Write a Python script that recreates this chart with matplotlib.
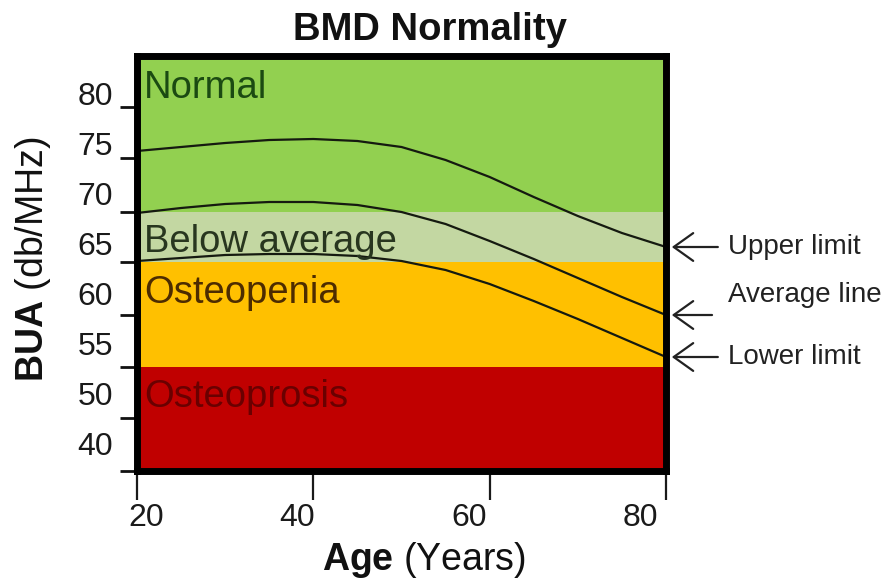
import matplotlib
matplotlib.use("Agg")
import matplotlib.pyplot as plt
import matplotlib.transforms as mtransforms

plt.rcParams['font.family'] = ['Liberation Sans', 'DejaVu Sans']
plt.rcParams['mathtext.fontset'] = 'custom'
plt.rcParams['mathtext.rm'] = 'Liberation Sans'
plt.rcParams['mathtext.bf'] = 'Liberation Sans:bold'

# curves (age in years, BUA)
ages = [20, 25, 30, 35, 40, 45, 50, 55, 60, 65, 70, 75, 80]
upper = [74.2, 74.6, 75.0, 75.3, 75.4, 75.2, 74.6, 73.3, 71.6, 69.6, 67.7, 66.0, 64.6]
average = [68.0, 68.5, 68.9, 69.1, 69.1, 68.8, 68.1, 66.9, 65.2, 63.4, 61.5, 59.6, 57.8]
lower = [63.2, 63.5, 63.8, 63.9, 63.9, 63.7, 63.2, 62.3, 60.9, 59.2, 57.4, 55.5, 53.6]
limit_names = ["Upper limit", "Average line", "Lower limit"]

# zones
zone_names = ["Normal", "Below average", "Osteopenia", "Osteoprosis"]
zone_low = [68.1, 63.1, 52.6, 42.2]
zone_high = [83.7, 68.1, 63.1, 52.6]
zone_colors = ["#92d050", "#c3d7a2", "#ffc000", "#c00000"]
zone_text_colors = ["#1b4a12", "#28361f", "#4d2c00", "#6a0000"]
zone_label_y = [79.5, 64.1, 59.0, 48.6]

# axis ticks
y_tick_pos = [80, 75, 70, 65, 60, 55, 50, 45]
y_tick_text = ["80", "75", "70", "65", "60", "55", "50", "40"]
y_tick_marks = [78.6, 73.5, 68.1, 63.1, 57.8, 52.6, 47.5, 42.2]
x_ticks = [20, 40, 60, 80]
x_label_shift_px = [9, -16, -21, -26]

fig = plt.figure(figsize=(8.86, 5.87), dpi=100)
ax = fig.add_axes([0.1546, 0.1976, 0.5971, 0.707])

for lo, hi, c in zip(zone_low, zone_high, zone_colors):
    ax.axhspan(lo, hi, color=c, lw=0, zorder=0)

for name, ty, tc in zip(zone_names, zone_label_y, zone_text_colors):
    ax.text(20.8, ty, name, color=tc, fontsize=27.5, ha='left', va='baseline', zorder=3)

for series in (upper, average, lower):
    ax.plot(ages, series, color='#151a10', lw=1.6, zorder=2)

ax.set_xlim(20, 80)
ax.set_ylim(42.2, 83.7)

for s in ax.spines.values():
    s.set_linewidth(5)
    s.set_color('black')
    s.set_capstyle('projecting')
    s.set_zorder(5)

ax.set_yticks(y_tick_pos)
ax.set_yticklabels(y_tick_text)
ax.set_yticks(y_tick_marks, minor=True)
ax.tick_params(axis='y', which='major', length=0, pad=17, labelsize=23, colors='#1a1a1a')
ax.tick_params(axis='y', which='minor', length=12, width=2, color='#111111')

ax.set_xticks(x_ticks)
ax.set_xticklabels([str(v) for v in x_ticks])
ax.tick_params(axis='x', which='major', length=21, width=1.6, pad=2, labelsize=23,
               colors='#1a1a1a')
for lab, dx in zip(ax.get_xticklabels(), x_label_shift_px):
    lab.set_transform(lab.get_transform() +
                      mtransforms.ScaledTranslation(dx / 100, 0, fig.dpi_scale_trans))

# arrows pointing at the curve ends
arrow_tail = [1.098, 1.087, 1.098]
text_y = [upper[-1], 59.8, lower[-1]]
for name, series, tail, ty in zip(limit_names, (upper, average, lower), arrow_tail, text_y):
    ax.annotate("", xy=(1.011, series[-1]), xytext=(tail, series[-1]),
                xycoords=('axes fraction', 'data'), textcoords=('axes fraction', 'data'),
                arrowprops=dict(arrowstyle='->,head_length=1.4,head_width=1.0',
                                color='#222222', lw=1.6, shrinkA=0, shrinkB=0,
                                mutation_scale=10),
                annotation_clip=False)
    ax.text(1.117, ty, name, transform=ax.get_yaxis_transform(), fontsize=20,
            ha='left', va='center', color='#222222', clip_on=False)

fig.text(0.485, 0.949, "BMD Normality", fontsize=27.5, fontweight='bold',
         ha='center', va='center', color='#111111')
fig.text(0.478, 0.046, r"$\mathbf{Age}$ (Years)", fontsize=27,
         ha='center', va='center', color='#111111')
fig.text(0.037, 0.559, r"$\mathbf{BUA}$ (db/MHz)", fontsize=27, rotation=90,
         ha='center', va='center', color='#111111')

fig.savefig('out.png', dpi=100)
